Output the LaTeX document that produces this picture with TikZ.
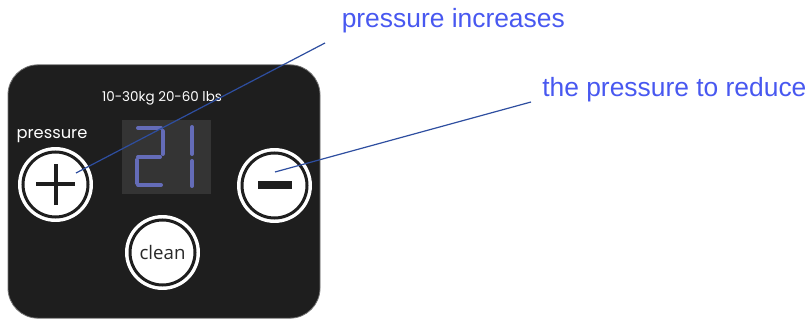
\documentclass[tikz,border=0pt]{standalone}
\usepackage{fontspec}
\setmainfont{Liberation Sans}
\newfontfamily\panelfont{Poppins}
\newfontfamily\btnfont{Open Sans}
\usetikzlibrary{positioning}

\definecolor{panelbg}{RGB}{30,30,30}
\definecolor{dispbg}{RGB}{52,52,52}
\definecolor{segblue}{RGB}{100,108,184}
\definecolor{labelblue}{RGB}{72,88,240}
\definecolor{calloutblue}{RGB}{46,78,160}
\definecolor{cleangray}{RGB}{40,40,40}

\tikzset{
  panel/.style={draw=black!55, line width=0.6pt, fill=panelbg, rounded corners=22.5pt,
    minimum width=234pt, minimum height=190pt, inner sep=0pt},
  display/.style={fill=dispbg, minimum width=66.75pt, minimum height=55.5pt, inner sep=0pt},
  button/.style={circle, fill=white, draw=white, double=panelbg, line width=2.6pt,
    double distance=2.25pt, minimum size=48.75pt, inner sep=0pt},
  seg/.style={segblue, line width=3pt, line cap=round},
  sign/.style={panelbg, line width=3pt},
  paneltext/.style={white, font=\panelfont\fontsize{10.1pt}{12pt}\selectfont},
  callout/.style={labelblue, font=\fontsize{19.8pt}{24pt}\selectfont, inner sep=0pt},
  leader/.style={calloutblue, line width=0.9pt}
}

\begin{document}
\begin{tikzpicture}[x=0.75pt, y=-0.75pt]
  \useasboundingbox (0,0) rectangle (809,320);

  % control panel
  \node[panel] (panel) at (164,191.5) {};
  \node[paneltext, anchor=base] (range) at (162,101.5) {10-30kg 20-60 lbs};
  \node[paneltext, anchor=base, font=\panelfont\fontsize{12.2pt}{14pt}\selectfont] (presstxt) at (52,138.5) {pressure};

  % display with the reading
  \node[display] (disp) at (166,157.5) {};
  \foreach \xa/\ya/\xb/\yb in {138/128/161/128, 162.5/131/162.5/154, 138/157/160/157,
                               136.5/160/136.5/183, 138/185/161/185, 192/127/192/154, 192/161/192/186}
    \draw[seg] (\xa,\ya) -- (\xb,\yb);

  % buttons
  \node[button] (plus) at (55.5,184.5) {};
  \draw[sign] ([xshift=-14.5pt]plus.center) -- ([xshift=14.5pt]plus.center);
  \draw[sign] ([yshift=-15.5pt]plus.center) -- ([yshift=15.5pt]plus.center);

  \node[button] (minus) at (274.5,185.5) {};
  \fill[panelbg] ([xshift=-12.75pt,yshift=-3pt]minus.center) rectangle ([xshift=12.75pt,yshift=3pt]minus.center);

  \node[button, font=\btnfont\fontsize{14pt}{16pt}\selectfont, text=cleangray] (clean) at (162.5,252.5) {clean};

  % labels
  \node[callout, anchor=base west] (inclabel) at (341.5,28) {pressure increases};
  \node[callout, anchor=base west] (redlabel) at (542,97) {the pressure to reduce};

  \coordinate (incstart) at (325,43);
  \coordinate (incend) at (76,173);
  \coordinate (redstart) at (531,102);
  \coordinate (redend) at (275,172);
  \draw[leader] (incstart) -- (incend);
  \draw[leader] (redstart) -- (redend);
\end{tikzpicture}
\end{document}
